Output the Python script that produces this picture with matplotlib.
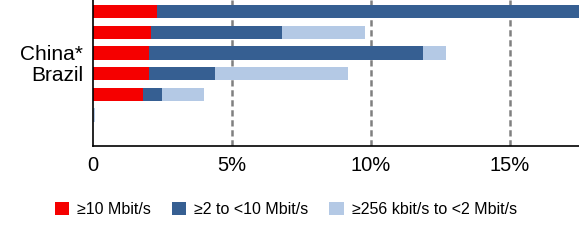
import matplotlib
matplotlib.use("Agg")
import matplotlib.pyplot as plt
import numpy as np

plt.rcParams['font.family'] = ['Liberation Sans', 'DejaVu Sans']

# rows from top to bottom (chart is cropped, only two labels visible)
labels = ["", "", "China*", "Brazil", "", ""]
fast = [2.3, 2.1, 2.0, 2.0, 1.8, 0.0]      # >=10 Mbit/s
mid = [18.0, 4.7, 9.9, 2.4, 0.7, 0.0]      # >=2 to <10 Mbit/s
slow = [0.0, 3.0, 0.8, 4.8, 1.5, 0.08]     # >=256 kbit/s to <2 Mbit/s
ticks = [0, 5, 10, 15]
tick_labels = ["0", "5%", "10%", "15%"]

c_fast = "#f50000"
c_mid = "#365f92"
c_slow = "#b4c9e5"

fig = plt.figure(figsize=(5.79, 2.43), dpi=100)
ax = fig.add_axes([0.1606, 0.3992, 0.8394, 0.6008])

y = np.arange(len(labels))
fast = np.array(fast)
mid = np.array(mid)
slow = np.array(slow)
h = 0.64

ax.barh(y, fast, height=h, color=c_fast, label="≥10 Mbit/s", zorder=2)
ax.barh(y, mid, left=fast, height=h, color=c_mid, label="≥2 to <10 Mbit/s", zorder=2)
ax.barh(y, slow, left=fast + mid, height=h, color=c_slow,
        label="≥256 kbit/s to <2 Mbit/s", zorder=2)

ax.set_xlim(0, 17.5)
ax.set_ylim(6.5, -0.556)
ax.set_yticks(y)
ax.set_yticklabels(labels, fontsize=15)
ax.set_xticks(ticks)
ax.set_xticklabels(tick_labels, fontsize=14.5)
ax.tick_params(axis='y', length=0, pad=7)
ax.tick_params(axis='x', length=0, pad=7)

for t in ticks[1:]:
    ax.axvline(t, color="#808080", lw=1.8, ls=(0, (2.5, 1.5)), zorder=1)

for s in ["top", "right"]:
    ax.spines[s].set_visible(False)
ax.spines["left"].set_linewidth(1.2)
ax.spines["bottom"].set_linewidth(1.2)

fig.legend(loc="center", bbox_to_anchor=(0.494, 0.138), ncol=3, frameon=False,
           fontsize=11.5, handlelength=0.9, handleheight=0.9, handletextpad=0.5,
           columnspacing=1.3)

fig.savefig("out.png", dpi=100)
